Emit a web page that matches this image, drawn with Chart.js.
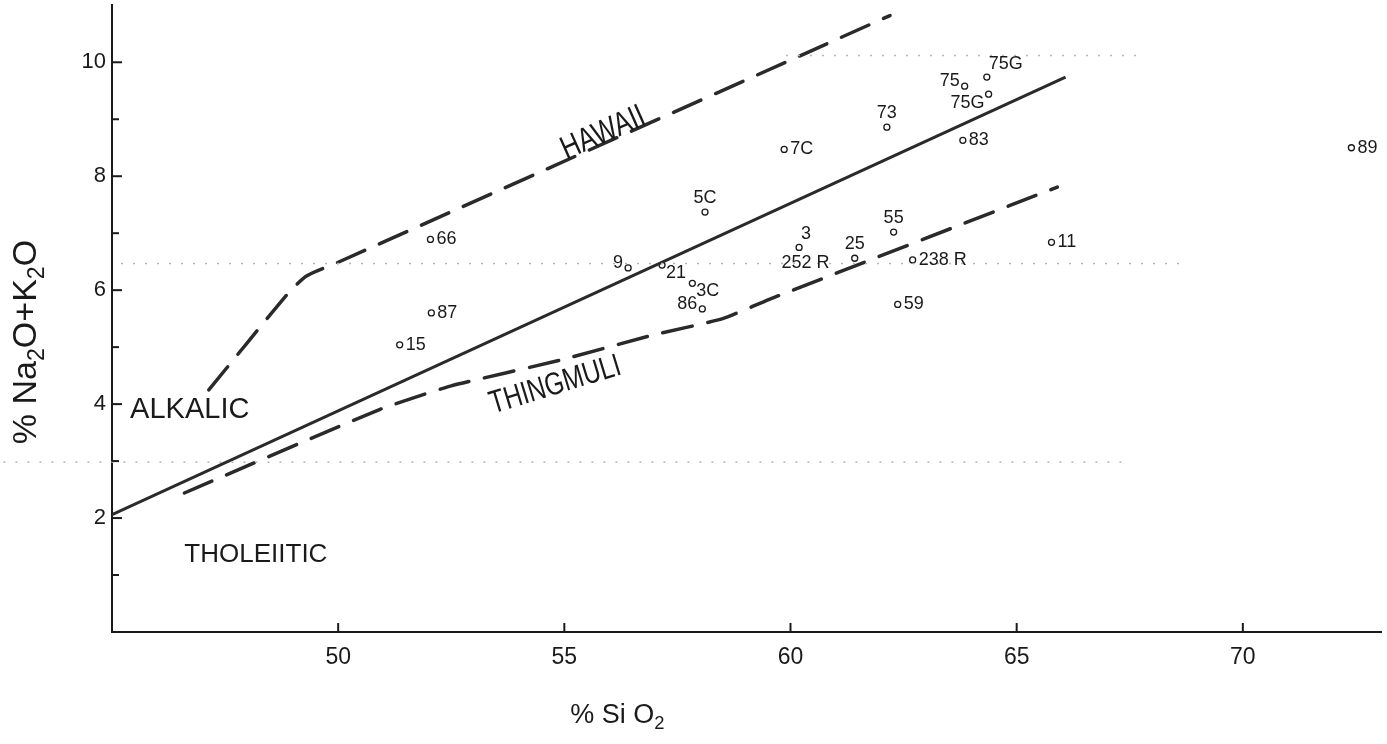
<!DOCTYPE html>
<html><head><meta charset="utf-8">
<script src="https://cdn.jsdelivr.net/npm/chart.js@4"></script>
<style>html,body{margin:0;padding:0;background:#fff}canvas{display:block}</style>
</head><body>
<canvas id="c" width="1387" height="744"></canvas>
<script>
// ---- data ----
const sampleLabels = ['66','87','15','9','21','3C','86','5C','7C','3','25','55','238 R','59','73','75','75G','75G','83','11','89'];
const sio2   = [52.04,52.06,51.36,56.41,57.16,57.83,58.05,58.11,59.86,60.19,61.42,62.28,62.70,62.37,62.13,63.85,64.34,64.38,63.81,65.77,72.4];
const alkali = [6.89, 5.60, 5.04, 6.39, 6.44, 6.12, 5.67, 7.37, 8.47, 6.75, 6.56, 7.02, 6.53, 5.75, 8.86, 9.58, 9.74, 9.44, 8.63, 6.84, 8.50];
const labelSide = ['r','r','r','l','br','br','l','t','r','tr','t','t','r','r','t','l','tr','bl','r','r','r'];

const dividerX = [45, 66.08];
const dividerY = [2.06, 9.74];
const hawaiiX = [47.14, 48.9, 49.3, 50.0, 62.2];
const hawaiiY = [4.25, 5.95, 6.25, 6.49, 10.82];
const thingX = [46.6, 50.9, 52.5, 54.9, 56.9, 58.5, 59.6, 65.9];
const thingY = [2.44, 3.9, 4.32, 4.77, 5.2, 5.5, 5.86, 7.81];

// faint dotted guide lines visible on the sheet
const guideY = [6.47, 10.12, 2.98];
const guideX0 = [45.2, 59.9, 42.6];
const guideX1 = [68.6, 67.7, 67.5];

const xTickValues = [50, 55, 60, 65, 70];
const yTickValues = [2, 4, 6, 8, 10];
const yMinorTicks = [1, 2, 3, 4, 5, 6, 7, 8, 9, 10];

const freeTexts = ['ALKALIC', 'THOLEIITIC', 'HAWAII', 'THINGMULI', '252 R'];
const freeTextX = [45.4, 46.6, 55.86, 54.8, 60.33];
const freeTextY = [3.9, 1.35, 8.75, 4.33, 6.47];

// ---- build chart ----
const pts = (xs, ys) => xs.map((v, i) => ({x: v, y: ys[i]}));
const FONT = '"Liberation Sans", Arial, sans-serif';
const INK = '#1a1a1a';

const datasets = [];
guideY.forEach((gy, i) => datasets.push({
  type: 'line', data: [{x: guideX0[i], y: gy}, {x: guideX1[i], y: gy}],
  borderColor: '#b5b5b5', borderWidth: 1.5, borderDash: [2, 10], pointRadius: 0, clip: false
}));
datasets.push({type: 'line', data: pts(dividerX, dividerY), borderColor: '#2a2a2a', borderWidth: 3, pointRadius: 0});
datasets.push({type: 'line', data: pts(hawaiiX, hawaiiY), borderColor: '#2a2a2a', borderWidth: 3.5, borderDash: [30, 16], borderCapStyle: 'round', pointRadius: 0, tension: 0.2, clip: false});
datasets.push({type: 'line', data: pts(thingX, thingY), borderColor: '#2a2a2a', borderWidth: 3.5, borderDash: [30, 16], borderCapStyle: 'round', pointRadius: 0, tension: 0.15});
datasets.push({type: 'scatter', data: pts(sio2, alkali), pointRadius: 3, pointBorderColor: INK, pointBackgroundColor: '#fff', pointBorderWidth: 1.3, showLine: false});

function drawRuns(ctx, runs, size) {
  let total = 0;
  runs.forEach(r => { ctx.font = (r[1] ? size * 0.68 : size) + 'px ' + FONT; total += ctx.measureText(r[0]).width; });
  let cx = -total / 2;
  runs.forEach(r => {
    ctx.font = (r[1] ? size * 0.68 : size) + 'px ' + FONT;
    ctx.fillText(r[0], cx, r[1] ? size * 0.3 : 0);
    cx += ctx.measureText(r[0]).width;
  });
}

const annot = {
  id: 'annot',
  afterDraw(chart) {
    const {ctx, scales: {x, y}} = chart;
    ctx.save();
    ctx.strokeStyle = INK; ctx.lineWidth = 2;
    yMinorTicks.forEach(v => {
      const py = y.getPixelForValue(v);
      ctx.beginPath(); ctx.moveTo(x.left, py); ctx.lineTo(x.left + (v % 2 === 0 ? 10 : 7), py); ctx.stroke();
    });
    xTickValues.forEach(v => {
      const px = x.getPixelForValue(v);
      ctx.beginPath(); ctx.moveTo(px, y.bottom); ctx.lineTo(px, y.bottom - 9); ctx.stroke();
    });
    // point labels
    ctx.fillStyle = INK;
    ctx.font = '18px ' + FONT;
    sampleLabels.forEach((t, i) => {
      const px = x.getPixelForValue(sio2[i]), py = y.getPixelForValue(alkali[i]);
      const s = labelSide[i];
      let tx = px, ty = py;
      ctx.textAlign = 'center'; ctx.textBaseline = 'middle';
      if (s === 'r') { ctx.textAlign = 'left'; tx = px + 6; }
      else if (s === 'l') { ctx.textAlign = 'right'; tx = px - 5; ty = py - 5; }
      else if (s === 't') { ty = py - 14; }
      else if (s === 'tr') { ctx.textAlign = 'left'; tx = px + 2; ty = py - 13; }
      else if (s === 'br') { ctx.textAlign = 'left'; tx = px + 4; ty = py + 8; }
      else if (s === 'bl') { ctx.textAlign = 'right'; tx = px - 4; ty = py + 9; }
      ctx.fillText(t, tx, ty);
    });
    // free annotations
    ctx.textBaseline = 'middle';
    ctx.font = '29px ' + FONT; ctx.textAlign = 'left';
    ctx.fillText(freeTexts[0], x.getPixelForValue(freeTextX[0]), y.getPixelForValue(freeTextY[0]));
    ctx.font = '26px ' + FONT;
    ctx.fillText(freeTexts[1], x.getPixelForValue(freeTextX[1]), y.getPixelForValue(freeTextY[1]));
    ctx.save();
    ctx.translate(x.getPixelForValue(freeTextX[2]), y.getPixelForValue(freeTextY[2]));
    ctx.rotate(-24 * Math.PI / 180);
    ctx.scale(0.85, 1.1);
    ctx.font = '30px ' + FONT; ctx.textAlign = 'center';
    ctx.fillText(freeTexts[2], 0, 0);
    ctx.restore();
    ctx.save();
    ctx.translate(x.getPixelForValue(freeTextX[3]), y.getPixelForValue(freeTextY[3]));
    ctx.rotate(-17 * Math.PI / 180);
    ctx.scale(0.85, 1.1);
    ctx.font = '29px ' + FONT; ctx.textAlign = 'center';
    ctx.fillText(freeTexts[3], 0, 0);
    ctx.restore();
    ctx.font = '18px ' + FONT; ctx.textAlign = 'center';
    ctx.fillText(freeTexts[4], x.getPixelForValue(freeTextX[4]), y.getPixelForValue(freeTextY[4]));
    // axis titles
    ctx.textAlign = 'left'; ctx.textBaseline = 'middle';
    ctx.save();
    ctx.translate(x.left + (x.right - x.left) * 0.398, 716);
    drawRuns(ctx, [['% Si O', false], ['2', true]], 27);
    ctx.restore();
    ctx.save();
    ctx.translate(27, 342);
    ctx.rotate(-Math.PI / 2);
    drawRuns(ctx, [['% Na', false], ['2', true], ['O+K', false], ['2', true], ['O', false]], 34);
    ctx.restore();
    ctx.restore();
  }
};

const zeroPad = s => { s.paddingTop = 0; s.paddingBottom = 0; s.paddingLeft = 0; s.paddingRight = 0; };

new Chart(document.getElementById('c'), {
  data: {datasets},
  options: {
    responsive: false, animation: false, devicePixelRatio: 1,
    layout: {padding: 0},
    plugins: {legend: {display: false}, tooltip: {enabled: false}, title: {display: false}},
    scales: {
      x: {
        type: 'linear', min: 45, max: 73.07,
        afterFit: s => { s.height = 112; zeroPad(s); },
        afterBuildTicks: s => { s.ticks = xTickValues.map(v => ({value: v})); },
        grid: {display: false, drawTicks: false, tickLength: 0},
        border: {display: true, color: INK, width: 2},
        ticks: {color: INK, font: {size: 23, family: FONT}, padding: 12, maxRotation: 0, autoSkip: false}
      },
      y: {
        type: 'linear', min: 0, max: 11.0,
        afterFit: s => { s.width = 112; zeroPad(s); },
        afterBuildTicks: s => { s.ticks = yTickValues.map(v => ({value: v})); },
        grid: {display: false, drawTicks: false, tickLength: 0},
        border: {display: true, color: INK, width: 2},
        ticks: {color: INK, font: {size: 22, family: FONT}, padding: 6, autoSkip: false}
      }
    }
  },
  plugins: [annot]
});
</script>
</body></html>
